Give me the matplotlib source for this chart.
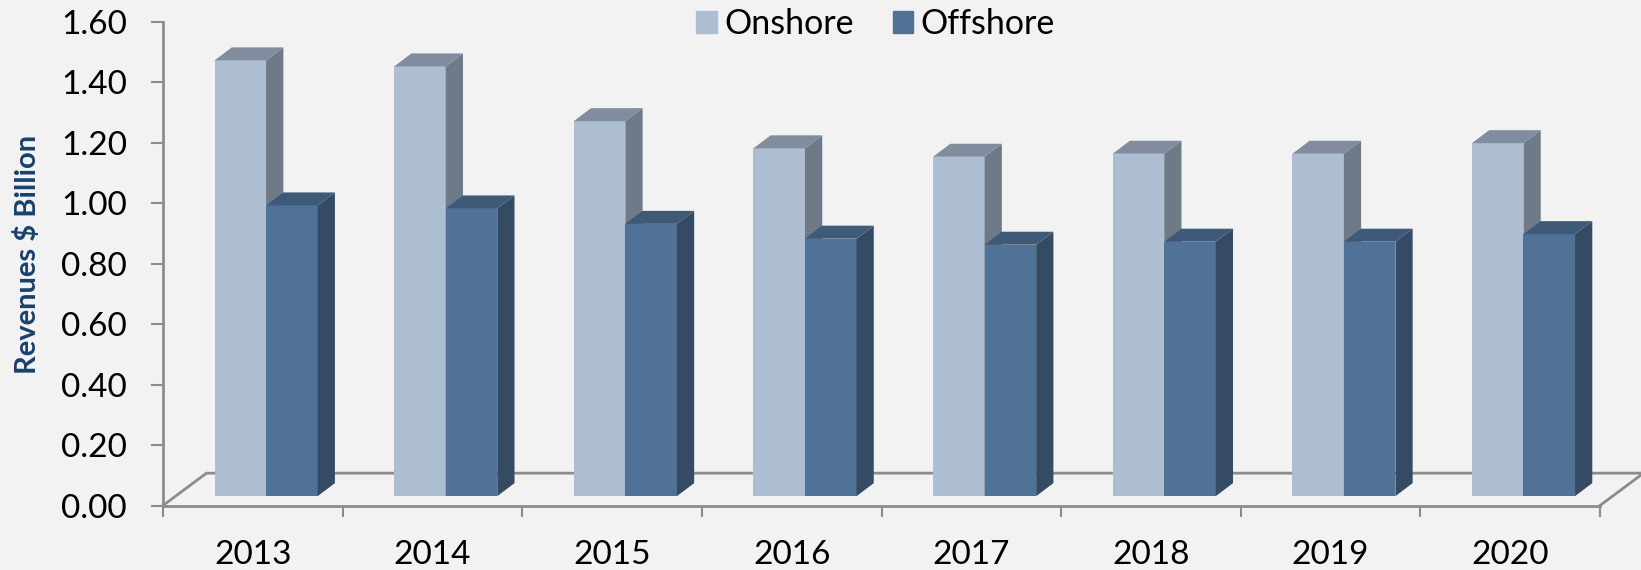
import matplotlib
matplotlib.use('Agg')
import matplotlib.pyplot as plt
from matplotlib.patches import Patch

years = ['2013', '2014', '2015', '2016', '2017', '2018', '2019', '2020']
onshore = [1.442, 1.422, 1.241, 1.151, 1.123, 1.133, 1.133, 1.168]
offshore = [0.962, 0.952, 0.901, 0.852, 0.832, 0.842, 0.842, 0.867]
yticks = [0.0, 0.2, 0.4, 0.6, 0.8, 1.0, 1.2, 1.4, 1.6]

W, H = 1641, 570
plt.rcParams['font.family'] = ['Lato', 'DejaVu Sans']

fig = plt.figure(figsize=(W / 100, H / 100), dpi=100, facecolor='#f2f2f2')
ax = fig.add_axes([163 / W, 1 - 505.5 / H, (1600 - 163) / W, (505.5 - 22) / H])
ax.set_facecolor('none')
ax.set_xlim(0, 8)
ax.set_ylim(0, 1.6)

# 3d look: offsets in data units
bar_w = 0.287
bar_start = 0.287
bar_base = 0.031
depth_x = 0.096
depth_y = 0.043
floor_x = 0.242
floor_y = 0.107
grey = '#8c8c8c'


def draw_bar(x, value, front, side, top, z):
    y0 = bar_base
    y1 = bar_base + value
    ax.bar(x, value, width=bar_w, bottom=y0, align='edge', color=front, linewidth=0, zorder=z)
    ax.fill([x + bar_w, x + bar_w + depth_x, x + bar_w + depth_x, x + bar_w],
            [y0, y0 + depth_y, y1 + depth_y, y1], color=side, linewidth=0, zorder=z)
    ax.fill([x, x + depth_x, x + bar_w + depth_x, x + bar_w],
            [y1, y1 + depth_y, y1 + depth_y, y1], color=top, linewidth=0, zorder=z)


# floor of the chart
ax.plot([0, floor_x, 8 + floor_x, 8], [0, floor_y, floor_y, 0], color=grey, lw=2,
        clip_on=False, zorder=1, solid_joinstyle='miter')

for i in range(len(years)):
    draw_bar(i + bar_start, onshore[i], '#adbed3', '#6e7a87', '#818d9f', 2)
    draw_bar(i + bar_start + bar_w, offshore[i], '#507297', '#344b63', '#3f5a78', 3)

for name in ['top', 'right']:
    ax.spines[name].set_visible(False)
for name in ['left', 'bottom']:
    ax.spines[name].set_color(grey)
    ax.spines[name].set_linewidth(2)

ax.set_yticks(yticks)
ax.set_yticklabels(['%.2f' % v for v in yticks])
ax.set_xticks(range(9))
ax.set_xticklabels([])
ax.set_xticks([i + 0.5 for i in range(8)], minor=True)
ax.set_xticklabels(years, minor=True)
ax.tick_params(axis='y', direction='out', length=8.5, width=1.5, color=grey, pad=17.5, labelsize=24)
ax.tick_params(axis='x', which='major', direction='out', length=8, width=1.5, color=grey)
ax.tick_params(axis='x', which='minor', length=0, pad=25, labelsize=24)

fig.text(28 / W, 1 - 254 / H, 'Revenues $ Billion', rotation=90, color='#17406d', fontsize=21,
         fontweight='bold', ha='center', va='center')

handles = [Patch(color='#adbed3', label='Onshore'), Patch(color='#507297', label='Offshore')]
fig.legend(handles=handles, ncol=2, loc='center', bbox_to_anchor=(875.5 / W, 1 - 24 / H), frameon=False,
           fontsize=24.5, handlelength=0.6, handleheight=0.6, handletextpad=0.22, columnspacing=1.15)

fig.savefig('out.png', dpi=100, facecolor=fig.get_facecolor())
